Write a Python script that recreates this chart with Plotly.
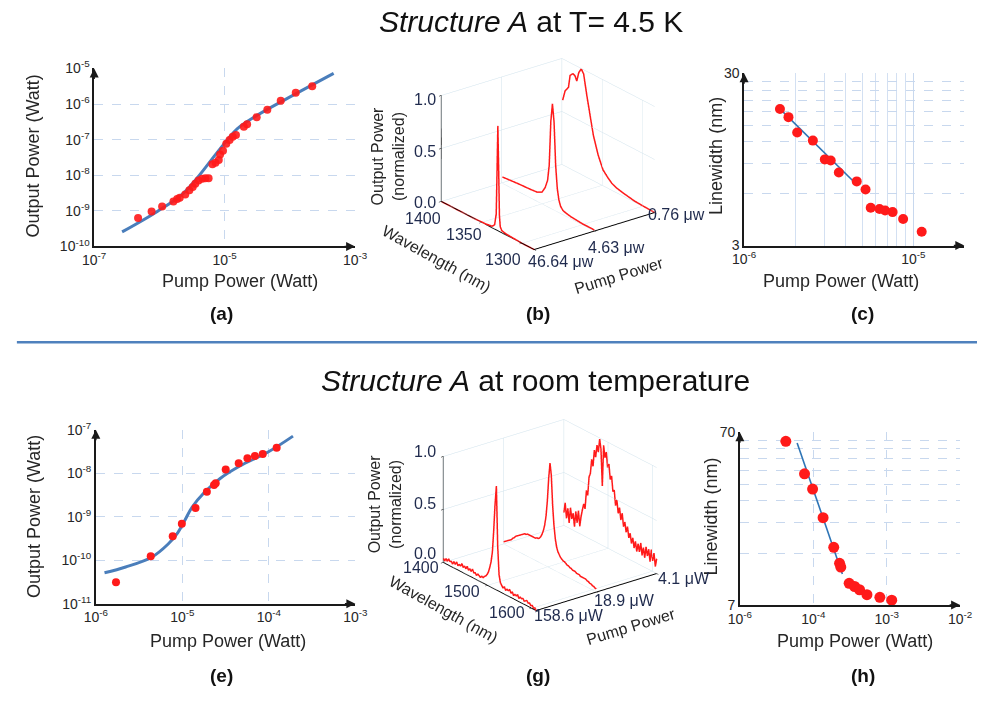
import plotly.graph_objects as go

W, H = 990, 702

# ---------------- DATA ----------------
# (a) Structure A at 4.5 K : L-L curve
pump_a = [4.71e-7, 7.59e-7, 1.10e-6, 1.64e-6, 1.87e-6, 2.05e-6, 2.49e-6, 2.88e-6, 3.24e-6, 3.55e-6,
          3.98e-6, 4.53e-6, 5.07e-6, 5.68e-6, 6.50e-6, 7.24e-6, 8.13e-6, 8.51e-6, 9.44e-6, 1.06e-5,
          1.19e-5, 1.33e-5, 1.49e-5, 1.97e-5, 2.21e-5, 3.10e-5, 4.51e-5, 7.24e-5, 1.23e-4, 2.20e-4]
out_a = [6.35e-10, 9.66e-10, 1.32e-9, 1.82e-9, 2.15e-9, 2.34e-9, 2.88e-9, 3.80e-9, 4.68e-9, 5.75e-9,
         7.08e-9, 7.94e-9, 8.24e-9, 8.24e-9, 2.04e-8, 2.26e-8, 2.67e-8, 3.82e-8, 4.90e-8, 7.64e-8,
         9.84e-8, 1.21e-7, 1.35e-7, 2.29e-7, 2.69e-7, 4.27e-7, 6.92e-7, 1.23e-6, 2.09e-6, 3.16e-6]
fit_pump_a = [2.68e-7, 9.29e-7, 2.30e-6, 4.05e-6, 6.35e-6, 1.0e-5, 1.57e-5, 3.10e-5, 8.59e-5, 4.69e-4]
fit_out_a = [2.57e-10, 9.66e-10, 3.07e-9, 9.75e-9, 2.79e-8, 7.98e-8, 2.05e-7, 4.75e-7, 1.36e-6, 7.29e-6]

# (b) spectra at 4.5 K (pump index: 0 -> 0.76 uW, 1 -> 4.63 uW, 2 -> 46.64 uW)
pump_labels_b = ["0.76 μw", "4.63 μw", "46.64 μw"]
wl_ticks_b = ["1300", "1350", "1400"]
wl_b_hi = [1285, 1300, 1310, 1320, 1325, 1327, 1328, 1329, 1330, 1331, 1332, 1334, 1337, 1345, 1360, 1380, 1400]
sp_b_hi = [0.0, 0.0, 0.005, 0.01, 0.02, 0.05, 0.15, 0.6, 0.99, 0.55, 0.15, 0.04, 0.015, 0.005, 0.0, 0.0, 0.0]
wl_b_mid = [1285, 1300, 1314, 1320, 1324, 1327, 1329, 1331, 1333, 1335, 1337, 1339, 1341, 1343, 1346, 1350,
            1356, 1365, 1377, 1388, 1399]
sp_b_mid = [0.01, 0.01, 0.02, 0.03, 0.04, 0.07, 0.12, 0.22, 0.43, 0.83, 0.995, 0.82, 0.40, 0.25, 0.17, 0.11,
            0.087, 0.08, 0.075, 0.068, 0.06]
wl_b_lo = [1285, 1300, 1310, 1324, 1332, 1338, 1343, 1349, 1355, 1361, 1365, 1369, 1373, 1376, 1379, 1381.5,
           1383.6, 1386.4, 1389.8, 1391.8, 1396, 1399]
sp_b_lo = [0.0, 0.005, 0.01, 0.03, 0.045, 0.066, 0.10, 0.15, 0.265, 0.43, 0.60, 0.77, 0.96, 0.995, 0.95, 0.86,
           0.90, 0.91, 0.88, 0.76, 0.71, 0.61]
power_ticks = ["0.0", "0.5", "1.0"]

# (c) linewidth at 4.5 K
pump_c = [1.63e-6, 1.83e-6, 2.06e-6, 2.55e-6, 3.0e-6, 3.25e-6, 3.63e-6, 4.63e-6, 5.22e-6, 5.6e-6,
          6.31e-6, 6.81e-6, 7.54e-6, 8.7e-6, 1.12e-5]
lw_c = [18.6, 16.7, 13.6, 12.2, 9.49, 9.36, 7.96, 7.07, 6.35, 4.97, 4.89, 4.79, 4.69, 4.28, 3.61]
fit_pump_c = [1.59e-6, 4.53e-6]
fit_lw_c = [19.1, 6.92]

# (e) room temperature L-L curve
pump_e = [1.71e-6, 4.31e-6, 7.74e-6, 9.86e-6, 1.42e-5, 1.92e-5, 2.32e-5, 2.43e-5, 3.17e-5, 4.48e-5,
          5.65e-5, 6.90e-5, 8.49e-5, 1.23e-4]
out_e = [3.11e-11, 1.23e-10, 3.56e-10, 6.85e-10, 1.59e-9, 3.76e-9, 5.38e-9, 5.87e-9, 1.21e-8, 1.70e-8,
         2.20e-8, 2.49e-8, 2.75e-8, 3.82e-8]
fit_pump_e = [1.26e-6, 2.21e-6, 4.42e-6, 6.81e-6, 8.83e-6, 1.05e-5, 1.30e-5, 1.76e-5, 2.71e-5, 4.56e-5,
              9.91e-5, 1.90e-4]
fit_out_e = [5.12e-11, 6.97e-11, 1.17e-10, 2.32e-10, 4.24e-10, 7.73e-10, 1.67e-9, 3.44e-9, 7.46e-9, 1.44e-8,
             3.11e-8, 7.10e-8]

# (g) room temperature spectra (pump index: 0 -> 158.6 uW, 1 -> 18.9 uW, 2 -> 4.1 uW)
pump_labels_g = ["158.6 μW", "18.9 μW", "4.1 μW"]
wl_ticks_g = ["1400", "1500", "1600"]
wl_g = [1400, 1403, 1406, 1409, 1412, 1415, 1418, 1421, 1424, 1427, 1430, 1433, 1436, 1439, 1442, 1445,
        1448, 1451, 1454, 1457, 1460, 1463, 1466, 1469, 1472, 1475, 1478, 1481, 1484, 1487, 1490, 1493,
        1496, 1499, 1502, 1505, 1508, 1511, 1514, 1517, 1520, 1523, 1526, 1529, 1532, 1535, 1538, 1541,
        1544, 1547, 1550, 1553, 1556, 1559, 1562, 1565, 1568, 1571, 1574, 1577, 1580, 1583, 1586, 1589,
        1592, 1595, 1598, 1601, 1604, 1607, 1610]
sp_g_hi = [0.04, 0.02, 0.05, 0.03, 0.06, 0.04, 0.05, 0.03, 0.06, 0.04, 0.07, 0.04, 0.06, 0.05, 0.08, 0.05,
           0.07, 0.05, 0.08, 0.05, 0.07, 0.05, 0.08, 0.05, 0.06, 0.04, 0.06, 0.05, 0.04, 0.06, 0.05, 0.07,
           0.08, 0.10, 0.13, 0.18, 0.24, 0.34, 0.55, 0.80, 0.98, 0.42, 0.16, 0.09, 0.07, 0.05, 0.07, 0.04,
           0.06, 0.05, 0.07, 0.04, 0.06, 0.03, 0.05, 0.04, 0.06, 0.03, 0.05, 0.04, 0.05, 0.03, 0.04, 0.05,
           0.03, 0.04, 0.02, 0.03, 0.01, 0.02, 0.0]
sp_g_mid = [0.02, 0.03, 0.04, 0.05, 0.06, 0.07, 0.08, 0.10, 0.11, 0.13, 0.14, 0.15, 0.16, 0.17, 0.18, 0.19,
            0.20, 0.20, 0.21, 0.21, 0.21, 0.21, 0.21, 0.21, 0.21, 0.22, 0.22, 0.23, 0.25, 0.28, 0.32, 0.38,
            0.47, 0.62, 0.84, 0.99, 0.88, 0.60, 0.42, 0.30, 0.23, 0.19, 0.17, 0.15, 0.14, 0.13, 0.13, 0.12,
            0.11, 0.11, 0.10, 0.10, 0.09, 0.09, 0.09, 0.08, 0.08, 0.08, 0.07, 0.07, 0.07, 0.07, 0.07, 0.06,
            0.06, 0.05, 0.05, 0.04, 0.04, 0.03, 0.03]
sp_g_lo = [0.12, 0.22, 0.08, 0.18, 0.05, 0.20, 0.10, 0.16, 0.04, 0.19, 0.09, 0.21, 0.07, 0.17, 0.24, 0.30,
           0.26, 0.44, 0.40, 0.58, 0.62, 0.76, 0.70, 0.86, 0.80, 0.92, 0.86, 0.99, 0.90, 0.56, 0.95, 0.84,
           0.90, 0.76, 0.80, 0.66, 0.70, 0.56, 0.58, 0.44, 0.50, 0.38, 0.44, 0.33, 0.40, 0.28, 0.33, 0.24,
           0.30, 0.20, 0.25, 0.16, 0.22, 0.13, 0.20, 0.11, 0.19, 0.12, 0.21, 0.10, 0.18, 0.09, 0.20, 0.12,
           0.19, 0.08, 0.20, 0.10, 0.18, 0.06, 0.14]

# (h) room temperature linewidth
pump_h = [4.23e-5, 7.60e-5, 9.79e-5, 1.36e-4, 1.90e-4, 2.28e-4, 2.37e-4, 3.08e-4, 3.66e-4, 4.27e-4,
          5.38e-4, 8.07e-4, 1.17e-3]
lw_h = [62, 40.2, 32.8, 22.4, 15.1, 12.2, 11.6, 9.35, 8.96, 8.58, 8.04, 7.76, 7.47]
fit_pump_h = [6.03e-5, 2.49e-4]
fit_lw_h = [60.7, 10.6]
h_tickvals = [1e-5, 1e-4, 1e-3, 1e-2]
h_ticktext = ["10<sup>-6</sup>", "10<sup>-4</sup>", "10<sup>-3</sup>", "10<sup>-2</sup>"]

# ---------------- STYLE ----------------
FONT = "Liberation Sans, Arial, sans-serif"
RED = "#ff1a1a"
BLUE = "#4a7ebb"
GRID = "#c8d8ee"
AXC = "#1a1a1a"
TXT = "#262626"
TXT3 = "#1f2a4d"


def dx(a, b):
    return [a / W, b / W]


def dy(top, bottom):
    return [1 - bottom / H, 1 - top / H]


def dec(a, b):
    return [10.0 ** k for k in range(a, b + 1)], [f"10<sup>{k}</sup>" for k in range(a, b + 1)]


fig = go.Figure()

# (a)
fig.add_trace(go.Scatter(x=fit_pump_a, y=fit_out_a, mode="lines", line=dict(color=BLUE, width=3, shape="spline"),
                         xaxis="x", yaxis="y", showlegend=False))
fig.add_trace(go.Scatter(x=pump_a, y=out_a, mode="markers", marker=dict(color=RED, size=8, opacity=0.9),
                         xaxis="x", yaxis="y", showlegend=False))
# (c)
fig.add_trace(go.Scatter(x=fit_pump_c, y=fit_lw_c, mode="lines", line=dict(color="#2e75b6", width=1.6),
                         xaxis="x2", yaxis="y2", showlegend=False))
fig.add_trace(go.Scatter(x=pump_c, y=lw_c, mode="markers", marker=dict(color=RED, size=10),
                         xaxis="x2", yaxis="y2", showlegend=False))
# (e)
fig.add_trace(go.Scatter(x=fit_pump_e, y=fit_out_e, mode="lines", line=dict(color=BLUE, width=3, shape="spline"),
                         xaxis="x3", yaxis="y3", showlegend=False))
fig.add_trace(go.Scatter(x=pump_e, y=out_e, mode="markers", marker=dict(color=RED, size=8),
                         xaxis="x3", yaxis="y3", showlegend=False))
# (h)
fig.add_trace(go.Scatter(x=fit_pump_h, y=fit_lw_h, mode="lines", line=dict(color="#2e75b6", width=1.6),
                         xaxis="x4", yaxis="y4", showlegend=False))
fig.add_trace(go.Scatter(x=pump_h, y=lw_h, mode="markers", marker=dict(color=RED, size=11),
                         xaxis="x4", yaxis="y4", showlegend=False))

# (b) 3D spectra
for idx, (wl, sp) in enumerate([(wl_b_lo, sp_b_lo), (wl_b_mid, sp_b_mid), (wl_b_hi, sp_b_hi)]):
    fig.add_trace(go.Scatter3d(x=wl, y=[idx] * len(wl), z=sp, mode="lines",
                               line=dict(color=RED, width=3), scene="scene", showlegend=False, hoverinfo="skip"))
# (g) 3D spectra
for idx, sp in enumerate([sp_g_hi, sp_g_mid, sp_g_lo]):
    fig.add_trace(go.Scatter3d(x=wl_g, y=[idx] * len(wl_g), z=sp, mode="lines",
                               line=dict(color=RED, width=3), scene="scene2", showlegend=False, hoverinfo="skip"))


def ax2d(domain, rng, tickvals=None, ticktext=None, grid_dash="dash", anchor=None, minor=None):
    d = dict(type="log", domain=domain, range=rng, showline=True, linecolor=AXC, linewidth=1.5,
             ticks="", showgrid=True, gridcolor=GRID, gridwidth=1, griddash=grid_dash, zeroline=False,
             tickfont=dict(family=FONT, size=14, color=TXT), anchor=anchor, fixedrange=True)
    if tickvals is not None:
        d["tickvals"] = tickvals
    if ticktext is not None:
        d["ticktext"] = ticktext
    if minor is not None:
        d["minor"] = minor
    return d


xa_v, xa_t = [1e-7, 1e-5, 1e-3], ["10<sup>-7</sup>", "10<sup>-5</sup>", "10<sup>-3</sup>"]
ya_v, ya_t = dec(-10, -5)
xc_v, xc_t = [1e-6, 1e-5], ["10<sup>-6</sup>", "10<sup>-5</sup>"]
xe_v, xe_t = dec(-6, -3)
ye_v, ye_t = dec(-11, -7)

layout = dict(
    width=W, height=H, margin=dict(l=0, r=0, t=0, b=0), paper_bgcolor="white", plot_bgcolor="white",
    showlegend=False, font=dict(family=FONT, color=TXT),
    xaxis=ax2d(dx(84.3, 352), [-7, -3], xa_v, xa_t, anchor="y"),
    yaxis=ax2d(dy(60, 242.7), [-10, -5], ya_v, ya_t, anchor="x"),
    xaxis2=ax2d(dx(751, 977), [-6, -4.699], xc_v, xc_t, grid_dash="solid", anchor="y2",
                minor=dict(tickvals=[2e-6, 3e-6, 4e-6, 5e-6, 6e-6, 7e-6, 8e-6, 9e-6, 2e-5], showgrid=True,
                           gridcolor="#d3e0f2", griddash="solid", ticks="")),
    yaxis2=ax2d(dy(65, 241.7), [0.4771, 1.4771], [3, 30], ["3", "30"], anchor="x2",
                minor=dict(tickvals=[6, 9, 12, 15, 18, 21, 24, 27], showgrid=True, gridcolor=GRID,
                           griddash="dash", ticks="")),
    xaxis3=ax2d(dx(86, 352.3), [-6, -3], xe_v, xe_t, anchor="y3"),
    yaxis3=ax2d(dy(430.7, 609.3), [-11, -7], ye_v, ye_t, anchor="x3"),
    xaxis4=ax2d(dx(746.7, 972.7), [-5, -2], h_tickvals, h_ticktext, anchor="y4"),
    yaxis4=ax2d(dy(433.3, 610.7), [0.8451, 1.8451], [7, 70], ["7", "70"], anchor="x4",
                minor=dict(tickvals=[14, 21, 28, 35, 42, 49, 56, 63], showgrid=True, gridcolor=GRID,
                           griddash="dash", ticks="")),
)


def ax3d(rng, tickvals):
    return dict(range=rng, tickvals=tickvals, title=dict(text=""), showgrid=True, gridcolor="#cfe2ec",
                gridwidth=1, showline=True, linecolor="black", linewidth=2, ticks="outside", tickcolor="black",
                ticklen=3, showticklabels=False, showbackground=False, showspikes=False, zeroline=False,
                autorange=False)


r = 1.55
k = 1.3
eye_dir_b = (-0.726, 0.559, 0.399)
eye_dir_g = (0.726, -0.559, 0.399)
layout["scene"] = dict(
    domain=dict(x=dx(400.5, 700.5), y=dy(27.9, 267.9)),
    xaxis=ax3d([1285, 1400], [1300, 1350, 1400]),
    yaxis=ax3d([0, 2], [0, 1, 2]),
    zaxis=ax3d([0, 1], [0, 0.5, 1]),
    aspectmode="manual", aspectratio=dict(x=k, y=k, z=0.76 * k),
    camera=dict(eye=dict(x=eye_dir_b[0] * r, y=eye_dir_b[1] * r, z=eye_dir_b[2] * r),
                up=dict(x=0, y=0, z=1), center=dict(x=0, y=0, z=0), projection=dict(type="orthographic")),
)
layout["scene2"] = dict(
    domain=dict(x=dx(401.9, 701.9), y=dy(398.7, 638.7)),
    xaxis=ax3d([1400, 1610], [1400, 1500, 1600]),
    yaxis=ax3d([0, 2], [0, 1, 2]),
    zaxis=ax3d([0, 1], [0, 0.5, 1]),
    aspectmode="manual", aspectratio=dict(x=k, y=k, z=0.76 * k),
    camera=dict(eye=dict(x=eye_dir_g[0] * r, y=eye_dir_g[1] * r, z=eye_dir_g[2] * r),
                up=dict(x=0, y=0, z=1), center=dict(x=0, y=0, z=0), projection=dict(type="orthographic")),
)

fig.update_layout(**layout)


def ann(x, y, text, size=17, angle=0, bold=False, color=TXT, xanchor="center", yanchor="middle"):
    fig.add_annotation(x=x / W, y=1 - y / H, xref="paper", yref="paper", text=(f"<b>{text}</b>" if bold else text),
                       showarrow=False, textangle=angle, font=dict(family=FONT, size=size, color=color),
                       xanchor=xanchor, yanchor=yanchor)


# titles
ann(532, 12, "<i>Structure A</i> at T= 4.5 K", size=30, color="#111111")
ann(537, 380, "<i>Structure A</i> at room temperature", size=30, color="#111111")

# axis titles 2D
ann(22, 150, "Output Power (Watt)", size=18, angle=-90)
ann(234, 278, "Pump Power (Watt)", size=18)
ann(722, 150, "Linewidth (nm)", size=18, angle=-90)
ann(850, 278, "Pump Power (Watt)", size=18)
ann(22, 520, "Output Power (Watt)", size=18, angle=-90)
ann(222, 648, "Pump Power (Watt)", size=18)
ann(717, 520, "Linewidth (nm)", size=18, angle=-90)
ann(865, 648, "Pump Power (Watt)", size=18)

# 3D axis titles
ann(386, 150, "Output Power<br>(normalized)", size=16, angle=-90)
ann(435, 255, "Wavelength (nm)", size=16, angle=29)
ann(623, 273, "Pump Power", size=16, angle=-17)
ann(383, 507, "Output Power<br>(normalized)", size=16, angle=-90)
ann(443, 615, "Wavelength (nm)", size=16, angle=29)
ann(635, 633, "Pump Power", size=16, angle=-17)

# 3D tick labels (b)
for (x, y), t in zip([(437, 198), (437, 145), (437, 92)], power_ticks):
    ann(x, y, t, size=16, color=TXT3, xanchor="right")
for (x, y), t in zip([(503.3, 256), (463.3, 230), (421.7, 214)], wl_ticks_b):
    ann(x, y, t, size=16, color=TXT3)
for (x, y), t in zip([(682, 210), (620, 243.5), (563.3, 258.5)], pump_labels_b):
    ann(x, y, t, size=16, color=TXT3)
# 3D tick labels (g)
for (x, y), t in zip([(437, 558), (437, 506), (437, 453)], power_ticks):
    ann(x, y, t, size=16, color=TXT3, xanchor="right")
for (x, y), t in zip([(420, 572), (461.7, 597), (508.3, 618.5)], wl_ticks_g):
    ann(x, y, t, size=16, color=TXT3)
for (x, y), t in zip([(571.7, 621), (628.3, 606), (689, 583)], pump_labels_g):
    ann(x, y, t, size=16, color=TXT3)

# panel letters
for x, y, t in [(215, 311, "(a)"), (540, 311, "(b)"), (873, 311, "(c)"),
                (215, 683, "(e)"), (540, 683, "(g)"), (873, 683, "(h)")]:
    ann(x, y, t, size=19, bold=True, color="#111111")

# axis arrowheads
for xa, ya in [("x", "y"), ("x2", "y2"), ("x3", "y3"), ("x4", "y4")]:
    fig.add_annotation(xref=f"{xa} domain", yref=f"{ya} domain", x=0, y=1.0, ax=0, ay=12, axref="pixel",
                       ayref="pixel", showarrow=True, arrowhead=2, arrowsize=1.2, arrowwidth=1.5,
                       arrowcolor=AXC, text="")
    fig.add_annotation(xref=f"{xa} domain", yref=f"{ya} domain", x=1.0, y=0, ax=-12, ay=0, axref="pixel",
                       ayref="pixel", showarrow=True, arrowhead=2, arrowsize=1.2, arrowwidth=1.5,
                       arrowcolor=AXC, text="")

# separator line
fig.add_shape(type="line", xref="paper", yref="paper", x0=5 / W, x1=1, y0=1 - 341 / H, y1=1 - 341 / H,
              line=dict(color="#4f81bd", width=2.5))

fig.write_html("out.html")
